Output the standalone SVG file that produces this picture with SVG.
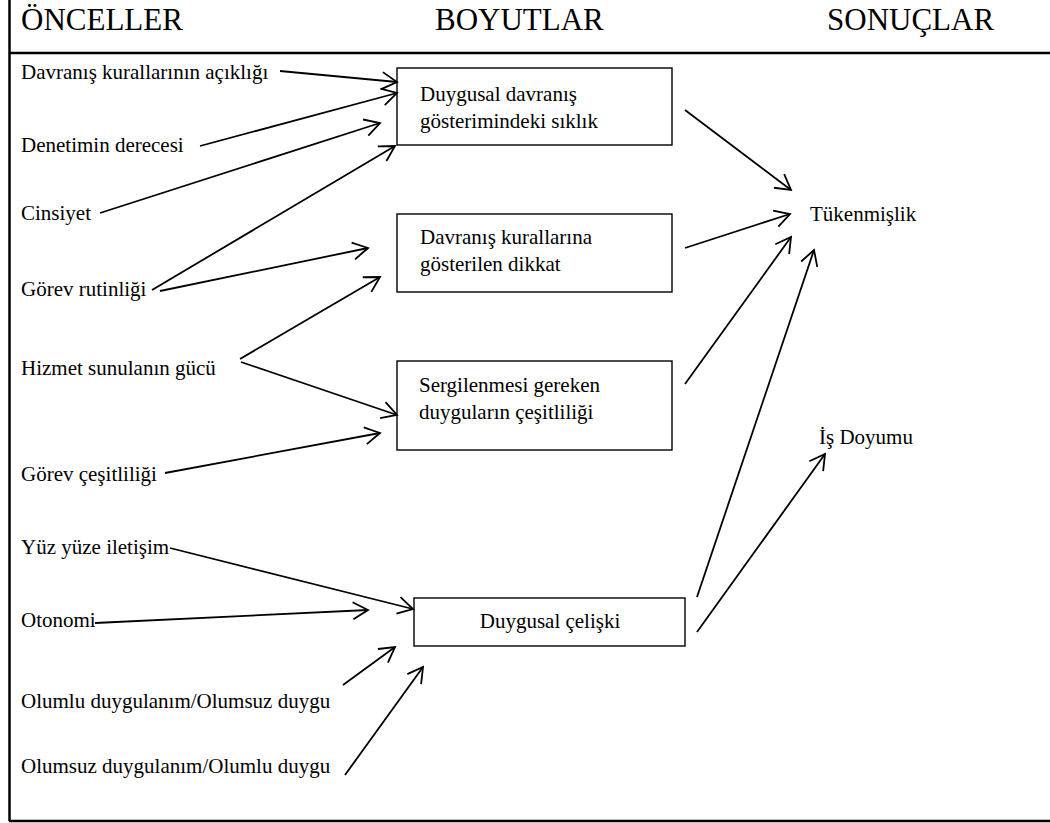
<svg xmlns="http://www.w3.org/2000/svg" width="1050" height="823" viewBox="0 0 1050 823">
<defs>
<style>
text{font-family:"Liberation Serif","Times New Roman",serif;fill:#000}
.h{font-size:31px}
.t{font-size:21px}
.box{fill:#fff;stroke:#000;stroke-width:1.4}
.frame{stroke:#000;stroke-width:2.5;fill:none}
.c line{stroke:#000;stroke-width:1.8;marker-end:url(#ah)}
</style>
<marker id="ah" markerUnits="userSpaceOnUse" viewBox="-18 -11 20 22" refX="0" refY="0" markerWidth="20" markerHeight="22" orient="auto">
<path d="M-15,-8.5 L0,0 L-15,8.5" fill="none" stroke="#000" stroke-width="1.8"/>
</marker>
</defs>
<rect width="1050" height="823" fill="#fff"/>
<g id="frame">
<line class="frame" x1="9.5" y1="0" x2="9.5" y2="821"/>
<line class="frame" x1="9" y1="53" x2="1050" y2="53"/>
<line class="frame" x1="9" y1="821" x2="1050" y2="821"/>
</g>
<g id="headers">
<text class="h" x="21" y="30">ÖNCELLER</text>
<text class="h" x="435" y="30">BOYUTLAR</text>
<text class="h" x="827" y="30">SONUÇLAR</text>
</g>
<g id="antecedents">
<text id="a1" class="t" x="21" y="79">Davranış kurallarının açıklığı</text>
<text id="a2" class="t" x="21" y="152">Denetimin derecesi</text>
<text id="a3" class="t" x="21" y="220">Cinsiyet</text>
<text id="a4" class="t" x="21" y="296">Görev rutinliği</text>
<text id="a5" class="t" x="21" y="375">Hizmet sunulanın gücü</text>
<text id="a6" class="t" x="21" y="481">Görev çeşitliliği</text>
<text id="a7" class="t" x="21" y="554">Yüz yüze iletişim</text>
<text id="a8" class="t" x="21" y="627">Otonomi</text>
<text id="a9" class="t" x="21" y="708">Olumlu duygulanım/Olumsuz duygu</text>
<text id="a10" class="t" x="21" y="773">Olumsuz duygulanım/Olumlu duygu</text>
</g>
<g id="box1">
<rect class="box" x="397" y="68" width="275" height="77"/>
<text class="t" x="420" y="101">Duygusal davranış</text>
<text class="t" x="420" y="128">gösterimindeki sıklık</text>
</g>
<g id="box2">
<rect class="box" x="397" y="214" width="275" height="78"/>
<text class="t" x="420" y="244">Davranış kurallarına</text>
<text class="t" x="420" y="271">gösterilen dikkat</text>
</g>
<g id="box3">
<rect class="box" x="397" y="361" width="275" height="89"/>
<text class="t" x="419" y="392">Sergilenmesi gereken</text>
<text class="t" x="419" y="419">duyguların çeşitliliği</text>
</g>
<g id="box4">
<rect class="box" x="414" y="598" width="271" height="48"/>
<text class="t" x="550" y="628" text-anchor="middle">Duygusal çelişki</text>
</g>
<g id="out1"><text class="t" x="810" y="221">Tükenmişlik</text></g>
<g id="out2"><text class="t" x="819" y="444">İş Doyumu</text></g>
<g id="connectors" class="c">
<line x1="280" y1="71" x2="397" y2="82"/>
<line x1="200" y1="146" x2="397" y2="93"/>
<line x1="100" y1="213" x2="380" y2="123"/>
<line x1="152" y1="290" x2="395" y2="146"/>
<line x1="160" y1="291" x2="368" y2="248"/>
<line x1="240" y1="359" x2="380" y2="277"/>
<line x1="241" y1="362" x2="397" y2="415"/>
<line x1="165" y1="473" x2="380" y2="433"/>
<line x1="170" y1="548" x2="413" y2="609"/>
<line x1="95" y1="623" x2="368" y2="610"/>
<line x1="343" y1="685" x2="395" y2="647"/>
<line x1="345" y1="775" x2="423" y2="667"/>
<line x1="685" y1="110" x2="791" y2="190"/>
<line x1="685" y1="248" x2="790" y2="214"/>
<line x1="685" y1="384" x2="791" y2="237"/>
<line x1="697" y1="597" x2="814" y2="250"/>
<line x1="697" y1="632" x2="825" y2="454"/>
</g>
</svg>
